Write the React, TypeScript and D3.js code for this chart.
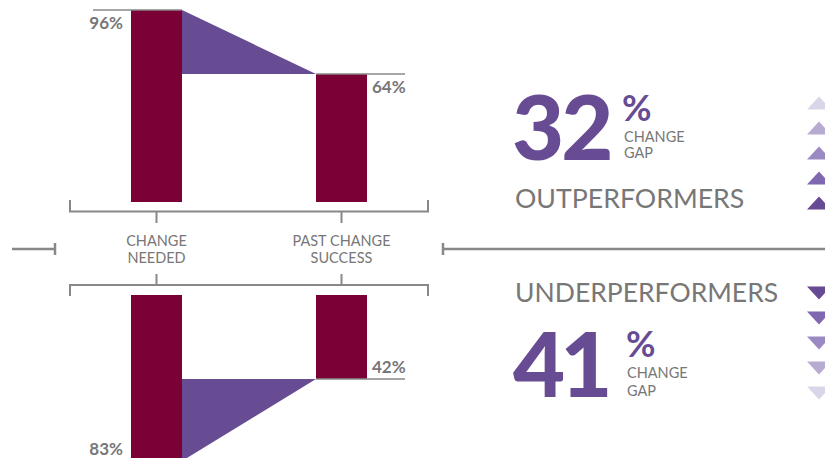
import React from "react";
import * as d3 from "d3";

const categories = ["CHANGE NEEDED", "PAST CHANGE SUCCESS"];
const categoryLines = [["CHANGE", "NEEDED"], ["PAST CHANGE", "SUCCESS"]];
const outperformers = [96, 64];
const underperformers = [83, 42];
const groups = ["OUTPERFORMERS", "UNDERPERFORMERS"];
const gaps = [32, 41];
const shadesUp = ["#dad5e9", "#b8abd3", "#9b89c1", "#7f68ae", "#664a94"];
const shadesDown = ["#664a94", "#7f68ae", "#9b89c1", "#b8abd3", "#dad5e9"];

const BAR = "#7a0036";
const PURPLE = "#674c94";
const GRAY = "#777777";
const LINE = "#888888";
const FONT = "Lato, 'Open Sans', sans-serif";

export default function App() {
  const x = d3.scalePoint<string>().domain(categories).range([156.5, 341.5]);
  const bw = 51;
  const yTop = d3.scaleLinear().domain([0, 100]).range([202, 2]);
  const yBot = d3.scaleLinear().domain([0, 100]).range([295, 495]);

  const x0 = x(categories[0])!;
  const x1 = x(categories[1])!;

  const topGap = `M${x0 + bw / 2},${yTop(outperformers[0])} L${x1 - bw / 2},${yTop(outperformers[1])} L${x0 + bw / 2},${yTop(outperformers[1])} Z`;
  const botGap = `M${x0 + bw / 2},${yBot(underperformers[1])} L${x1 - bw / 2},${yBot(underperformers[1])} L${x0 + bw / 2},${yBot(underperformers[0])} Z`;

  const tri = (cx: number, cy: number, up: boolean) => {
    const w = 12, h = 6.5;
    return up
      ? `M${cx - w},${cy + h} L${cx},${cy - h} L${cx + w},${cy + h} Z`
      : `M${cx - w},${cy - h} L${cx},${cy + h} L${cx + w},${cy - h} Z`;
  };
  const triY = d3.scaleLinear().domain([0, 4]).range([103, 203]);
  const triYd = d3.scaleLinear().domain([0, 4]).range([293, 393]);

  return (
    <svg width={825} height={458} style={{ position: "absolute", left: 0, top: 0, background: "#fff" }} fontFamily={FONT}>
      <rect width={825} height={458} fill="#fff" />
      {/* top chart */}
      {outperformers.map((v, i) => {
        const cx = x(categories[i])!;
        return <rect key={"tb" + i} x={cx - bw / 2} y={yTop(v)} width={bw} height={yTop(0) - yTop(v)} fill={BAR} />;
      })}
      <path d={topGap} fill={PURPLE} />
      {outperformers.map((v, i) => {
        const cx = x(categories[i])!;
        const xa = i === 0 ? cx - bw / 2 - 38 : cx - bw / 2;
        const xb = i === 0 ? cx + bw / 2 : cx + bw / 2 + 38;
        return (
          <g key={"tl" + i}>
            <line x1={xa} x2={xb} y1={yTop(v)} y2={yTop(v)} stroke={LINE} strokeWidth={1.5} />
            <text x={i === 0 ? cx - bw / 2 - 8 : cx + bw / 2 + 5} y={yTop(v) + 19} textAnchor={i === 0 ? "end" : "start"} fill={GRAY} fontSize={17} fontWeight={700}>{v}%</text>
          </g>
        );
      })}
      {/* bottom chart */}
      {underperformers.map((v, i) => {
        const cx = x(categories[i])!;
        return <rect key={"bb" + i} x={cx - bw / 2} y={yBot(0)} width={bw} height={yBot(v) - yBot(0)} fill={BAR} />;
      })}
      <path d={botGap} fill={PURPLE} />
      {underperformers.map((v, i) => {
        const cx = x(categories[i])!;
        const xa = i === 0 ? cx - bw / 2 - 38 : cx - bw / 2;
        const xb = i === 0 ? cx + bw / 2 : cx + bw / 2 + 38;
        return (
          <g key={"bl" + i}>
            <line x1={xa} x2={xb} y1={yBot(v)} y2={yBot(v)} stroke={LINE} strokeWidth={1.5} />
            <text x={i === 0 ? cx - bw / 2 - 8 : cx + bw / 2 + 5} y={yBot(v) - 6} textAnchor={i === 0 ? "end" : "start"} fill={GRAY} fontSize={17} fontWeight={700}>{v}%</text>
          </g>
        );
      })}
      {/* brackets */}
      <path d="M70,200 V211.5 H428 V200" fill="none" stroke={LINE} strokeWidth={2} />
      <path d="M70,296 V285 H428 V296" fill="none" stroke={LINE} strokeWidth={2} />
      {categories.map((c, i) => (
        <g key={"ax" + i}>
          <line x1={x(c)} x2={x(c)} y1={211.5} y2={223} stroke={LINE} strokeWidth={2} />
          <line x1={x(c)} x2={x(c)} y1={285} y2={274} stroke={LINE} strokeWidth={2} />
          {categoryLines[i].map((t, j) => (
            <text key={j} x={x(c)} y={246 + j * 17} textAnchor="middle" fill={GRAY} fontSize={14.5}>{t}</text>
          ))}
        </g>
      ))}
      {/* side lines */}
      <line x1={12} x2={56} y1={249} y2={249} stroke={LINE} strokeWidth={2.5} />
      <line x1={55} x2={55} y1={243} y2={255} stroke={LINE} strokeWidth={2.5} />
      <line x1={442} x2={825} y1={249} y2={249} stroke={LINE} strokeWidth={2.5} />
      <line x1={443} x2={443} y1={243} y2={255} stroke={LINE} strokeWidth={2.5} />
      {/* right panel: outperformers */}
      <text x={512} y={160} fill={PURPLE} fontSize={90} fontWeight={900} letterSpacing={-3}>{gaps[0]}</text>
      <text x={622} y={121} fill={PURPLE} fontSize={36} fontWeight={700}>%</text>
      <text x={624} y={142} fill={GRAY} fontSize={14.5}>CHANGE</text>
      <text x={624} y={158} fill={GRAY} fontSize={14.5}>GAP</text>
      <text x={515} y={208} fill={GRAY} fontSize={26.7} fontWeight={400}>{groups[0]}</text>
      {/* right panel: underperformers */}
      <text x={515} y={302} fill={GRAY} fontSize={26.5} fontWeight={400}>{groups[1]}</text>
      <text x={513} y={397} fill={PURPLE} fontSize={90} fontWeight={900} letterSpacing={-5}>{gaps[1]}</text>
      <text x={626} y={357} fill={PURPLE} fontSize={36} fontWeight={700}>%</text>
      <text x={627} y={378} fill={GRAY} fontSize={14.5}>CHANGE</text>
      <text x={627} y={396} fill={GRAY} fontSize={14.5}>GAP</text>
      {/* triangles */}
      {shadesUp.map((c, i) => <path key={"u" + i} d={tri(819, triY(i), true)} fill={c} />)}
      {shadesDown.map((c, i) => <path key={"d" + i} d={tri(819, triYd(i), false)} fill={c} />)}
    </svg>
  );
}
